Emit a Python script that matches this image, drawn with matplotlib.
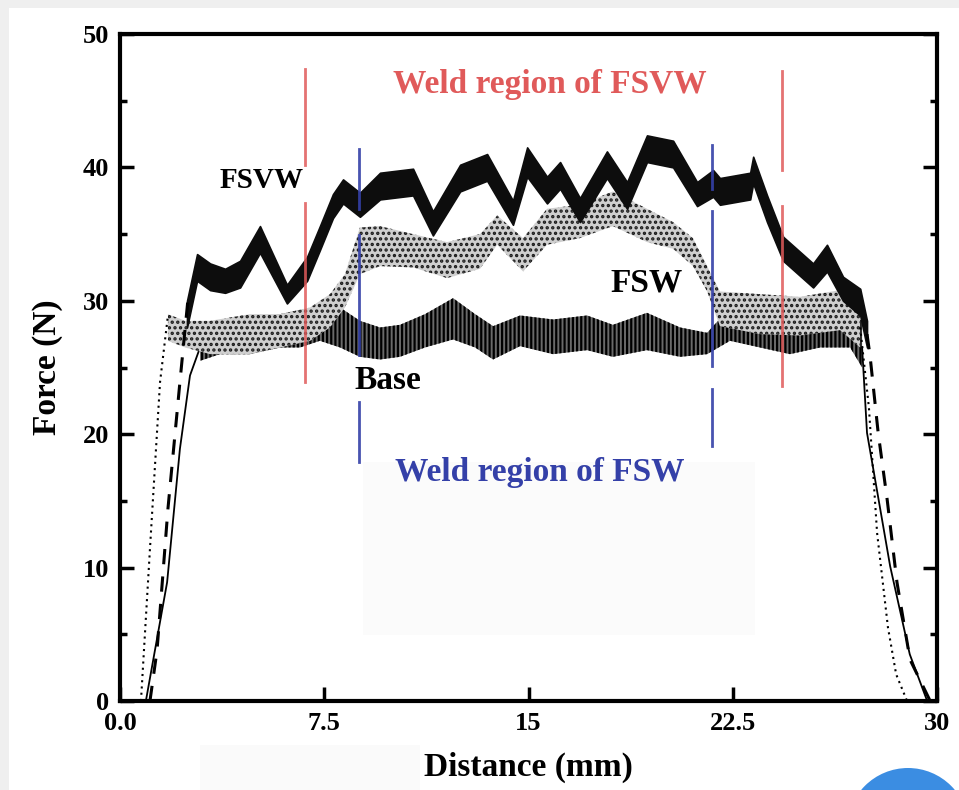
import matplotlib
matplotlib.use("Agg")
import matplotlib.pyplot as plt
from matplotlib.patches import Rectangle, Circle

plt.rcParams["font.family"] = ["Liberation Serif", "DejaVu Serif"]
plt.rcParams["font.weight"] = "bold"
plt.rcParams["hatch.linewidth"] = 1.6

# ---- data (x in mm, y in N) ----
# FSVW: noisy band + dashed ramps
fsvw_x = [2.46, 2.83, 3.31, 3.86, 4.41, 5.14, 6.13, 6.87, 7.34, 7.82, 8.19, 8.81,
          9.55, 10.76, 11.49, 12.49, 13.48, 14.43, 14.95, 15.68, 16.16, 16.89,
          17.88, 18.62, 19.35, 20.31, 21.19, 21.78, 22.03, 23.14, 23.25, 23.76,
          24.35, 25.45, 25.96, 26.55, 27.18, 27.43]
fsvw_lo = [28.0, 31.5, 30.8, 30.6, 31.0, 33.6, 29.8, 31.5, 33.8, 36.2, 37.3, 36.3,
           37.6, 37.9, 34.9, 38.2, 39.0, 35.7, 39.3, 37.3, 38.4, 35.9,
           39.2, 36.9, 40.4, 40.0, 37.1, 37.8, 37.2, 37.6, 38.8, 35.9,
           33.0, 31.0, 32.2, 30.0, 28.9, 26.5]
fsvw_hi = [30.0, 33.5, 32.8, 32.4, 33.0, 35.6, 31.2, 33.3, 35.6, 38.0, 39.1, 38.1,
           39.6, 39.9, 36.7, 40.2, 41.0, 37.5, 41.5, 39.3, 40.4, 37.7,
           41.2, 38.9, 42.4, 42.0, 38.9, 39.8, 39.2, 39.6, 40.8, 37.9,
           34.8, 32.8, 34.2, 31.8, 30.9, 28.5]
fsvw_up_x = [1.10, 1.36, 1.76, 2.20, 2.50]
fsvw_up_y = [0.0, 3.8, 14.4, 23.9, 30.2]
fsvw_dn_x = [27.43, 27.54, 27.84, 28.17, 28.53, 29.01, 29.75]
fsvw_dn_y = [27.5, 25.9, 20.1, 15.1, 8.9, 3.1, 0.0]

# FSW: dotted band + dotted ramps
fsw_x = [1.76, 2.39, 3.31, 4.77, 5.88, 6.98, 7.71, 8.26, 8.81, 9.55, 10.76, 12.01,
         13.22, 13.85, 14.80, 15.68, 16.89, 18.10, 19.35, 20.31, 21.04, 21.56,
         22.03, 23.50, 24.97, 26.44, 27.18]
fsw_lo = [27.0, 26.5, 26.0, 26.0, 26.5, 27.0, 28.0, 29.5, 32.0, 32.6, 32.5, 31.7,
          32.4, 34.2, 32.2, 34.2, 34.7, 35.6, 34.4, 33.9, 32.6, 30.7,
          28.1, 27.5, 27.4, 27.8, 26.5]
fsw_hi = [29.0, 28.5, 28.5, 29.0, 29.0, 29.5, 30.5, 32.0, 35.5, 35.6, 35.0, 34.4,
          35.0, 36.4, 34.7, 36.9, 37.2, 38.2, 36.9, 35.9, 34.7, 32.6,
          30.7, 30.5, 30.3, 30.8, 29.5]
fsw_up_x = [0.77, 1.10, 1.47, 1.76]
fsw_up_y = [0.0, 11.4, 23.9, 28.9]
fsw_dn_x = [27.18, 27.50, 27.80, 28.20, 28.50, 28.90]
fsw_dn_y = [28.0, 22.0, 12.6, 5.5, 2.0, 0.0]

# Base: striped band + solid ramps
base_x = [2.94, 3.67, 4.77, 5.88, 6.61, 7.34, 8.08, 8.81, 9.55, 10.28, 11.20, 12.23,
          13.04, 13.70, 14.69, 15.90, 17.15, 18.10, 19.35, 20.57, 21.56, 22.40,
          23.50, 24.60, 25.71, 26.81, 27.25]
base_lo = [25.5, 26.0, 26.0, 26.5, 26.5, 27.0, 26.5, 25.8, 25.6, 25.8, 26.5, 27.1,
           26.5, 25.6, 26.6, 26.0, 26.3, 25.8, 26.3, 25.8, 26.0, 27.0,
           26.5, 26.0, 26.5, 26.5, 25.0]
base_hi = [27.5, 28.0, 28.5, 29.0, 29.3, 29.5, 29.5, 28.5, 28.0, 28.2, 29.0, 30.2,
           29.0, 28.1, 28.9, 28.6, 28.9, 28.2, 29.1, 28.0, 27.6, 29.5,
           29.0, 28.5, 29.0, 29.0, 28.5]
base_up_x = [0.95, 1.73, 2.20, 2.57, 2.94]
base_up_y = [0.0, 8.9, 18.9, 24.4, 26.5]
base_dn_x = [27.25, 27.43, 28.28, 29.00, 29.64]
base_dn_y = [26.5, 20.1, 10.1, 3.5, 0.0]

# weld region markers: x position and dash segments (y from, y to)
fsvw_weld_x = [6.79, 24.31]
fsvw_weld_segs = [[(40.2, 47.4), (23.9, 37.3)], [(39.8, 47.2), (23.6, 37.1)]]
fsw_weld_x = [8.78, 21.74]
fsw_weld_segs = [[(36.9, 41.4), (25.9, 34.9), (17.9, 22.4)],
                 [(38.4, 41.7), (25.1, 36.7), (19.1, 23.4)]]

xticks = [0, 7.5, 15, 22.5, 30]
xtick_labels = ["0.0", "7.5", "15", "22.5", "30"]
yticks = [0, 10, 20, 30, 40, 50]

RED = "#e05a5a"
BLUE = "#3440a8"

fig = plt.figure(figsize=(9.59, 7.90), dpi=100)
fig.patch.set_facecolor("#efefef")
fig.add_artist(Rectangle((9 / 959, 0), 1, 782 / 790, transform=fig.transFigure,
                         facecolor="white", edgecolor="none", zorder=-10))
# faint screenshot artefacts
fig.add_artist(Rectangle((363 / 959, (790 - 635) / 790), 392 / 959, 173 / 790,
                         transform=fig.transFigure, facecolor="#fbfbfb",
                         edgecolor="none", zorder=-9))
fig.add_artist(Rectangle((200 / 959, 0), 220 / 959, 45 / 790,
                         transform=fig.transFigure, facecolor="#fafafa",
                         edgecolor="none", zorder=-9))
fig.add_artist(Circle((9.08, -0.39), 0.61, transform=fig.dpi_scale_trans,
                      facecolor="#3b8de2", edgecolor="none", zorder=5))

ax = fig.add_axes([120 / 959, 89 / 790, 817 / 959, 667 / 790])
ax.set_facecolor("none")

# Base
ax.fill_between(base_x, base_lo, base_hi, facecolor="#6a6a6a", hatch="||||",
                edgecolor="black", linewidth=0, zorder=2)
ax.plot(base_up_x, base_up_y, color="black", lw=1.3, zorder=2)
ax.plot(base_dn_x, base_dn_y, color="black", lw=1.3, zorder=2)

# FSW
ax.fill_between(fsw_x, fsw_lo, fsw_hi, facecolor="#cfcfcf", hatch="...",
                edgecolor="#1a1a1a", linewidth=0, zorder=3)
ax.plot(fsw_up_x, fsw_up_y, color="black", lw=1.5, ls=(0, (1, 2)), zorder=3)
ax.plot(fsw_dn_x, fsw_dn_y, color="black", lw=1.5, ls=(0, (1, 2)), zorder=3)

# FSVW
ax.fill_between(fsvw_x, fsvw_lo, fsvw_hi, facecolor="#0d0d0d", edgecolor="#0d0d0d",
                linewidth=1.2, zorder=4)
ax.plot(fsvw_up_x, fsvw_up_y, color="black", lw=2.2, ls=(0, (5, 4)), zorder=4)
ax.plot(fsvw_dn_x, fsvw_dn_y, color="black", lw=2.2, ls=(0, (5, 4)), zorder=4)

# weld region lines
for xv, segs in zip(fsvw_weld_x, fsvw_weld_segs):
    for y0, y1 in segs:
        ax.plot([xv, xv], [y0, y1], color=RED, lw=2, alpha=0.85, zorder=6)
for xv, segs in zip(fsw_weld_x, fsw_weld_segs):
    for y0, y1 in segs:
        ax.plot([xv, xv], [y0, y1], color=BLUE, lw=2, alpha=0.9, zorder=6)

# texts
ax.text(15.8, 46.2, "Weld region of FSVW", color=RED, fontsize=24,
        fontweight="bold", ha="center", va="center", zorder=7)
ax.text(15.4, 17.1, "Weld region of FSW", color=BLUE, fontsize=24,
        fontweight="bold", ha="center", va="center", zorder=7)
ax.text(5.2, 39.0, "FSVW", color="black", fontsize=21, fontweight="bold",
        ha="center", va="center", zorder=7)
ax.text(19.35, 31.3, "FSW", color="black", fontsize=24, fontweight="bold",
        ha="center", va="center", zorder=7)
ax.text(9.85, 24.0, "Base", color="black", fontsize=24, fontweight="bold",
        ha="center", va="center", zorder=7)

ax.set_xlim(0, 30)
ax.set_ylim(0, 50)
ax.set_xticks(xticks)
ax.set_xticklabels(xtick_labels)
ax.set_yticks(yticks)
ax.set_yticks([5, 15, 25, 35, 45], minor=True)
ax.tick_params(axis="both", which="major", direction="in", length=10, width=2.5,
               labelsize=19, pad=8)
ax.tick_params(axis="y", which="both", right=True)
ax.tick_params(axis="y", which="minor", direction="in", length=5, width=2.5)
for lab in ax.get_xticklabels() + ax.get_yticklabels():
    lab.set_fontweight("bold")
for sp in ax.spines.values():
    sp.set_linewidth(3)

ax.set_xlabel("Distance (mm)", fontsize=24, fontweight="bold", labelpad=12)
ax.set_ylabel("Force (N)", fontsize=24, fontweight="bold", labelpad=14)

fig.savefig("out.png", dpi=100, facecolor=fig.get_facecolor())
